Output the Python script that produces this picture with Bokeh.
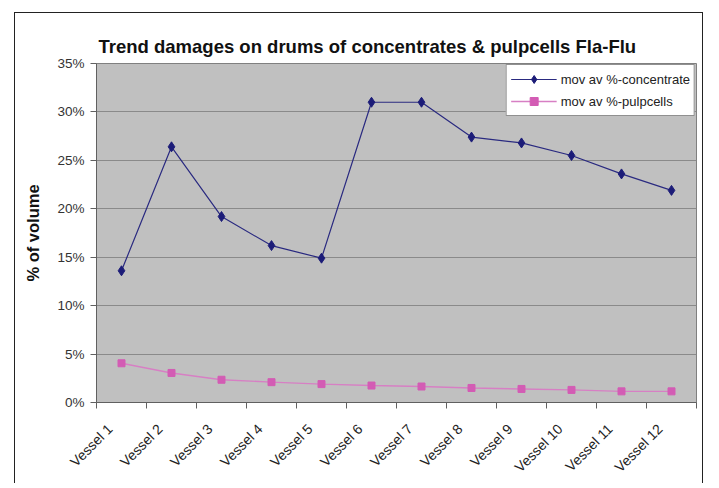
import numpy as np
from bokeh.plotting import figure
from bokeh.models import (Range1d, FixedTicker, PrintfTickFormatter, Legend, LegendItem,
                          Title, InlineStyleSheet)
from bokeh.embed import file_html
from bokeh.resources import INLINE

vessels = ["Vessel 1", "Vessel 2", "Vessel 3", "Vessel 4", "Vessel 5", "Vessel 6",
           "Vessel 7", "Vessel 8", "Vessel 9", "Vessel 10", "Vessel 11", "Vessel 12"]
concentrate = [13.6, 26.4, 19.2, 16.2, 14.9, 31.0, 31.0, 27.4, 26.8, 25.5, 23.6, 21.9]
pulpcells = [4.05, 3.05, 2.35, 2.1, 1.9, 1.75, 1.65, 1.5, 1.4, 1.3, 1.15, 1.15]
y_ticks = [0, 5, 10, 15, 20, 25, 30, 35]

xpos = [i + 0.5 for i in range(len(vessels))]
label_pos = [i + 0.27 for i in range(len(vessels))]

p = figure(width=703, height=472, output_backend="svg", toolbar_location=None,
           x_range=Range1d(0, len(vessels)), y_range=Range1d(0, 35),
           frame_width=600, frame_height=339,
           min_border_left=96, min_border_right=7, min_border_top=63, min_border_bottom=70)

p.background_fill_color = "#c0c0c0"
p.border_fill_color = "white"
p.outline_line_color = "#808080"
p.outline_line_width = 1

title = Title(text="Trend damages on drums of concentrates & pulpcells Fla-Flu",
              align="left", offset=2, text_font="Liberation Sans", text_font_size="18.5px",
              text_font_style="bold", text_color="#111111", standoff=13)
p.add_layout(title, "above")

# y axis
p.yaxis.ticker = FixedTicker(ticks=y_ticks)
p.yaxis.formatter = PrintfTickFormatter(format="%d%%")
p.yaxis.axis_label = "% of volume"
p.yaxis.axis_label_text_font = "Liberation Sans"
p.yaxis.axis_label_text_font_size = "16.5px"
p.yaxis.axis_label_text_font_style = "bold"
p.yaxis.axis_label_text_color = "#111111"
p.yaxis.axis_label_standoff = 12
p.yaxis.major_label_text_font = "Liberation Sans"
p.yaxis.major_label_text_font_size = "13.5px"
p.yaxis.major_label_text_color = "#333333"
p.yaxis.major_label_standoff = 6
p.yaxis.axis_line_color = "#606060"
p.yaxis.major_tick_line_color = "#606060"
p.yaxis.major_tick_out = 6
p.yaxis.major_tick_in = 0
p.yaxis.minor_tick_line_color = None

# x axis: labels near centres, ticks at category boundaries
p.xaxis.ticker = FixedTicker(ticks=label_pos, minor_ticks=list(range(len(vessels) + 1)))
p.xaxis.major_label_overrides = {x: v for x, v in zip(label_pos, vessels)}
p.xaxis.major_label_orientation = np.pi / 4
p.xaxis.major_label_text_font = "Liberation Sans"
p.xaxis.major_label_text_font_size = "14px"
p.xaxis.major_label_text_color = "#222222"
p.xaxis.major_label_standoff = 18
p.xaxis.major_tick_line_color = None
p.xaxis.minor_tick_line_color = "#606060"
p.xaxis.minor_tick_out = 6
p.xaxis.minor_tick_in = 0
p.xaxis.axis_line_color = "#606060"

p.xgrid.grid_line_color = None
p.ygrid.ticker = FixedTicker(ticks=y_ticks)
p.ygrid.grid_line_color = "#8a8a8a"
p.ygrid.grid_line_width = 1.2

navy = "#1c1c78"
pink = "#d35cb4"
l1 = p.line(xpos, concentrate, line_color="#2a2a80", line_width=1.2)
m1 = p.scatter(xpos, concentrate, marker="diamond", size=10, fill_color=navy, line_color=navy)
l2 = p.line(xpos, pulpcells, line_color="#d77fc4", line_width=1.4)
m2 = p.scatter(xpos, pulpcells, marker="square", size=7, fill_color=pink, line_color=pink)

legend = Legend(items=[LegendItem(label="mov av %-concentrate", renderers=[l1, m1]),
                       LegendItem(label="mov av %-pulpcells", renderers=[l2, m2])],
                location="top_right", margin=1, padding=4, spacing=2,
                glyph_width=46, glyph_height=20, label_height=20, label_standoff=4,
                border_line_color="#222222", border_line_width=1,
                background_fill_color="white", background_fill_alpha=1,
                label_text_font="Liberation Sans", label_text_font_size="13px",
                label_text_color="#222222")
p.add_layout(legend)

p.stylesheets = [InlineStyleSheet(css=""":host { position: relative; }
:host::after { content: ""; position: absolute; left: 14px; top: 12px; right: 0px; bottom: 0px;
  border-top: 1.5px solid #222; border-left: 1.5px solid #222; border-right: 1.5px solid #222;
  pointer-events: none; z-index: 10; }""")]

open("out.html", "w").write(file_html(p, INLINE))
